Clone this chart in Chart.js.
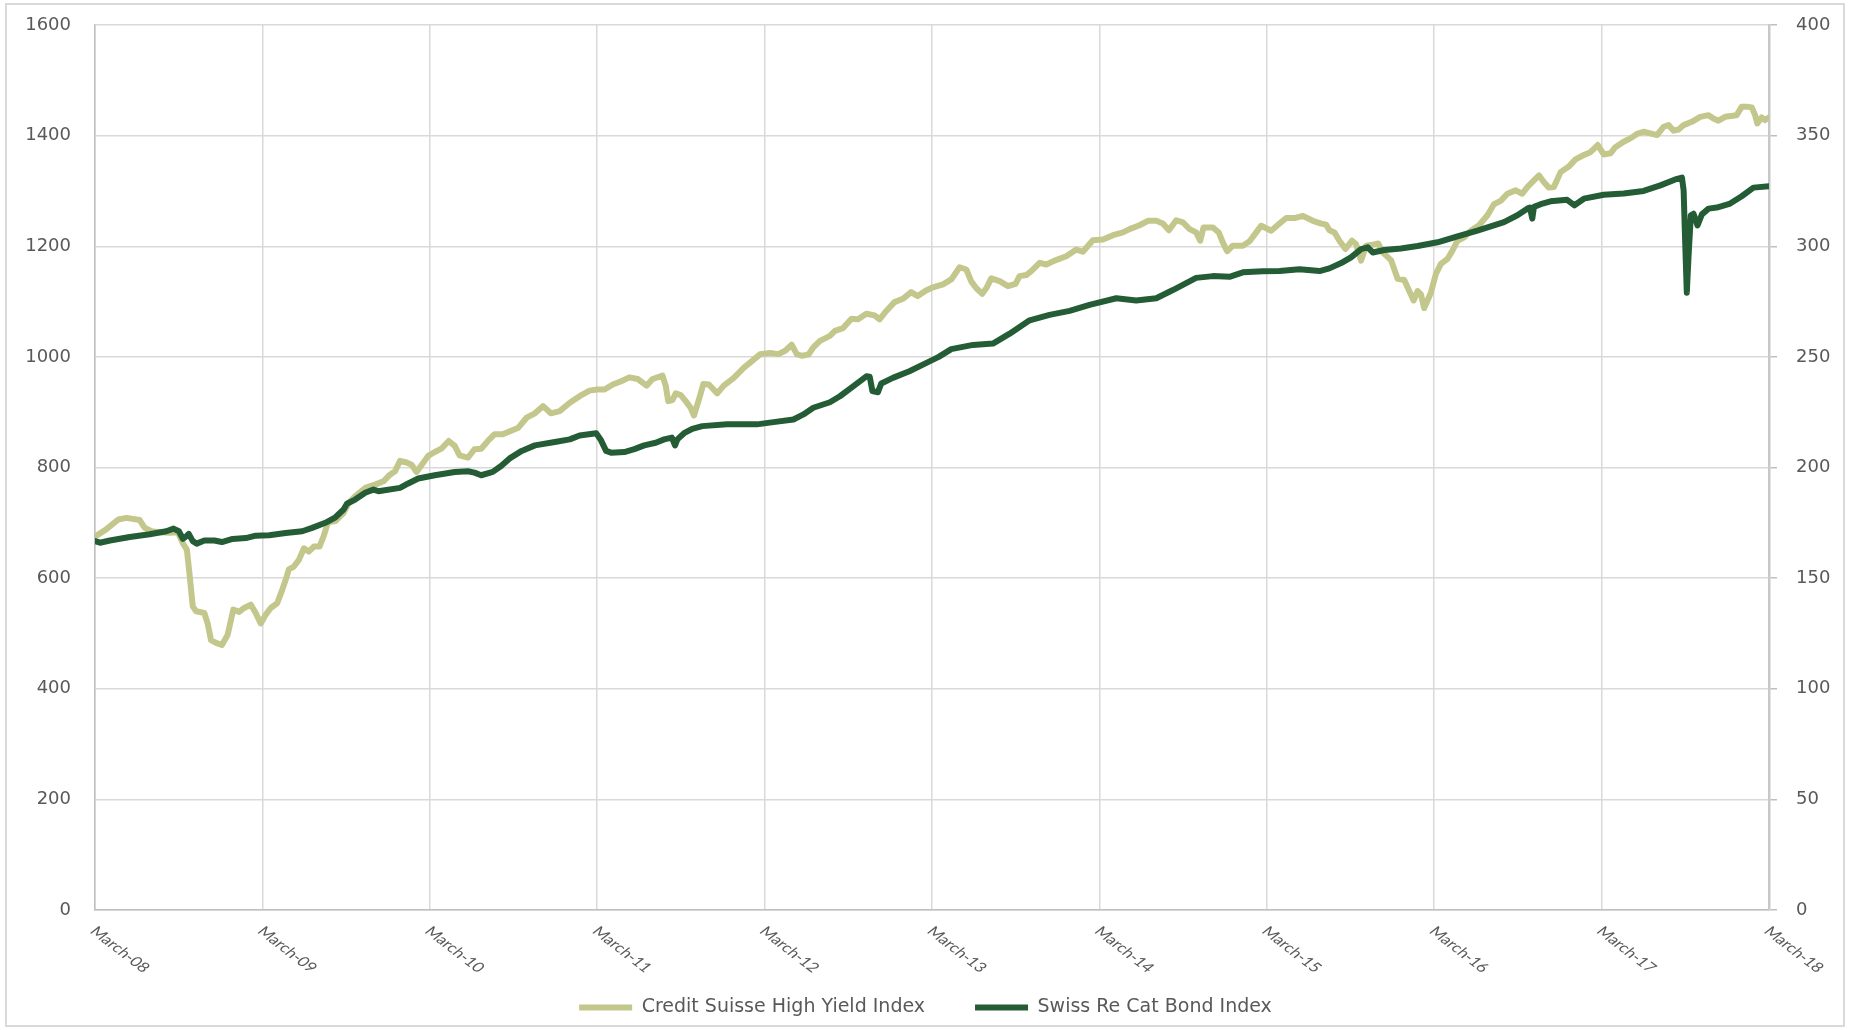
<!DOCTYPE html>
<html>
<head>
<meta charset="utf-8">
<script src="https://cdn.jsdelivr.net/npm/chart.js@4.4.1/dist/chart.umd.min.js"></script>
<style>
  html, body { margin: 0; padding: 0; background: #ffffff; }
  #wrap { width: 1851px; height: 1030px; position: relative; }
</style>
</head>
<body>
<div id="wrap"><canvas id="c" width="1851" height="1030"></canvas></div>
<script>
// Year ticks on the time axis (0 = March 2008, 10 = March 2018)
const tickLabels = ['March-08', 'March-09', 'March-10', 'March-11', 'March-12', 'March-13',
                    'March-14', 'March-15', 'March-16', 'March-17', 'March-18'];
const seriesNames = ['Credit Suisse High Yield Index', 'Swiss Re Cat Bond Index'];

// Credit Suisse High Yield Index (left axis): years since March 2008, index level
const hyYears = [
  0, 0.07, 0.139, 0.188, 0.267, 0.297, 0.337, 0.386, 0.446, 0.495, 0.525, 0.549, 0.564, 0.584, 0.604,
  0.653, 0.673, 0.693, 0.723, 0.758, 0.792, 0.826, 0.861, 0.891, 0.931, 0.96, 0.99, 1.02, 1.05, 1.089,
  1.115, 1.139, 1.158, 1.188, 1.218, 1.248, 1.277, 1.307, 1.341, 1.366, 1.392, 1.436, 1.485, 1.515,
  1.554, 1.614, 1.673, 1.723, 1.762, 1.792, 1.822, 1.861, 1.891, 1.921, 1.95, 1.99, 2.03, 2.069, 2.113,
  2.149, 2.178, 2.228, 2.267, 2.307, 2.347, 2.386, 2.436, 2.475,
  2.529, 2.578, 2.628, 2.677, 2.723, 2.776, 2.836, 2.895, 2.954, 3.0, 3.044, 3.093, 3.143, 3.192, 3.242,
  3.295, 3.331, 3.39, 3.41, 3.424, 3.45, 3.469, 3.499, 3.529, 3.558, 3.578, 3.608, 3.634, 3.667, 3.717,
  3.756, 3.816, 3.875, 3.935, 3.974, 4.034, 4.083, 4.123, 4.162, 4.192, 4.222, 4.261, 4.291, 4.331,
  4.39, 4.42, 4.469, 4.519, 4.558, 4.608, 4.657, 4.687, 4.727, 4.776, 4.826, 4.875, 4.915, 4.964,
  5.0, 5.066, 5.115, 5.165, 5.205, 5.235, 5.265, 5.3, 5.324, 5.354, 5.404, 5.454, 5.499, 5.523, 5.563,
  5.593, 5.643, 5.683, 5.732, 5.802, 5.862, 5.901, 5.961, 6.021, 6.081, 6.141, 6.18, 6.24, 6.29, 6.34,
  6.379, 6.415, 6.459, 6.499, 6.539, 6.578, 6.602, 6.622, 6.678, 6.713, 6.737, 6.763, 6.797, 6.857,
  6.897, 6.927, 6.966, 7.026, 7.076, 7.116, 7.166, 7.215, 7.275, 7.325, 7.355, 7.374, 7.404, 7.434,
  7.47, 7.509, 7.533, 7.563, 7.593, 7.633, 7.666, 7.692, 7.742, 7.782, 7.821, 7.851, 7.877, 7.901,
  7.921, 7.94, 7.98, 8.01, 8.04, 8.079, 8.109, 8.139, 8.179, 8.218, 8.268, 8.318, 8.357, 8.397, 8.437,
  8.487, 8.526, 8.556, 8.596, 8.626, 8.655, 8.685, 8.715, 8.755, 8.804, 8.844, 8.894, 8.933, 8.977,
  9.013, 9.053, 9.082, 9.132, 9.172, 9.211, 9.251, 9.291, 9.331, 9.37, 9.4, 9.43, 9.46, 9.49, 9.539,
  9.589, 9.639, 9.668, 9.698, 9.738, 9.807, 9.837, 9.877, 9.897, 9.917, 9.93, 9.956, 9.976, 10.0
];
const hyValues = [
  675, 689, 706, 709, 705, 691, 685, 683, 682, 683, 663, 651, 609, 549, 540,
  537, 518, 488, 483, 479, 497, 543, 539, 546, 552, 537, 518, 534, 546, 555,
  576, 597, 616, 621, 633, 654, 648, 657, 657, 676, 701, 703, 718, 736,
  748, 763, 769, 775, 787, 793, 812, 809, 805, 792, 804, 821, 828, 834, 848,
  839, 822, 818, 833, 834, 848, 860, 860, 865,
  872, 890, 898, 911, 898, 902, 917, 929, 939, 941, 941, 950, 956, 963, 960,
  948, 960, 966, 947, 920, 922, 934, 931, 920, 908, 894, 923, 951, 950, 934,
  948, 962, 980, 995, 1005, 1007, 1005, 1011, 1022, 1005, 1002, 1004, 1017, 1029,
  1038, 1047, 1052, 1069, 1068, 1078, 1075, 1068, 1083, 1099, 1105, 1117, 1110, 1120,
  1125, 1131, 1140, 1162, 1158, 1136, 1124, 1114, 1124, 1142, 1137, 1128, 1132, 1146, 1148,
  1155, 1170, 1167, 1174, 1182, 1194, 1190, 1211, 1212, 1220, 1225, 1231, 1238, 1246, 1246,
  1241, 1229, 1247, 1243, 1231, 1225, 1210, 1234, 1234, 1225, 1207, 1191, 1201, 1201,
  1209, 1221, 1237, 1228, 1241, 1251, 1251, 1255, 1246, 1241, 1239, 1229, 1225, 1210,
  1195, 1210, 1204, 1174, 1201, 1203, 1205, 1189, 1175, 1141, 1139, 1119, 1102, 1119,
  1113, 1088, 1116, 1150, 1168, 1177, 1192, 1210, 1216, 1228, 1238, 1256, 1276, 1282, 1295,
  1301, 1295, 1307, 1319, 1328, 1316, 1306, 1307, 1334, 1344, 1357, 1365, 1370, 1383,
  1366, 1368, 1379, 1389, 1395, 1403, 1407, 1404, 1401, 1416, 1419, 1409, 1411, 1419, 1425,
  1434, 1437, 1431, 1427, 1434, 1437, 1452, 1452, 1451, 1437, 1422, 1433, 1428, 1433
];

// Swiss Re Cat Bond Index (right axis): years since March 2008, index level
const catYears = [
  0, 0.03, 0.089, 0.208, 0.327, 0.426, 0.469, 0.501, 0.525, 0.545, 0.56, 0.584, 0.608, 0.653, 0.713,
  0.758, 0.822, 0.901, 0.96, 1.04, 1.139, 1.238, 1.297, 1.376, 1.436, 1.485, 1.505, 1.554, 1.614,
  1.663, 1.693, 1.822, 1.871, 1.931, 2.03, 2.149, 2.228, 2.267, 2.307, 2.376, 2.426, 2.475,
  2.549, 2.628, 2.747, 2.836, 2.895, 2.994, 3.02, 3.053, 3.083, 3.162, 3.222, 3.281, 3.35, 3.4, 3.446,
  3.465, 3.479, 3.519, 3.568, 3.628, 3.776, 3.954, 4.053, 4.172, 4.232, 4.291, 4.39, 4.45, 4.529,
  4.608, 4.628, 4.644, 4.677, 4.697, 4.766, 4.865, 4.964,
  5.04, 5.115, 5.245, 5.364, 5.464, 5.583, 5.702, 5.822, 5.941, 6.101, 6.22, 6.34, 6.439, 6.578,
  6.678, 6.777, 6.857, 6.976, 7.076, 7.195, 7.315, 7.374, 7.454, 7.503,
  7.563, 7.603, 7.633, 7.702, 7.801, 7.901, 8.02, 8.139, 8.258, 8.417, 8.497, 8.556, 8.572, 8.586,
  8.596, 8.636, 8.695, 8.794, 8.838, 8.894, 9.013, 9.132, 9.251, 9.351, 9.44, 9.48, 9.49, 9.499,
  9.509, 9.519, 9.533, 9.549, 9.573, 9.599, 9.639, 9.688, 9.768, 9.837, 9.907, 10.0
];
const catValues = [
  166.7, 166, 167, 168.6, 169.8, 171.2, 172.4, 171.2, 167.8, 168.9, 170, 166.7, 165.6, 167, 167,
  166.3, 167.7, 168.1, 169.2, 169.4, 170.4, 171.2, 172.7, 175, 177.5, 181, 183.6, 185.5, 188.6,
  190, 189.3, 190.8, 192.8, 195, 196.5, 198, 198.3, 197.7, 196.5, 198, 200.7, 204,
  207.5, 210, 211.5, 212.7, 214.5, 215.5, 212.7, 207.5, 206.7, 207, 208.3, 210, 211.2, 212.7, 213.5,
  210, 212.7, 215.5, 217.5, 218.7, 219.5, 219.5, 220.5, 221.7, 224, 227, 229.5, 232.2, 236.7,
  241.2, 241, 234.5, 234, 238, 240.5, 243.5, 247.2,
  250, 253.5, 255.4, 256, 260.5, 266.5, 269, 270.8, 273.5, 276.5, 275.5, 276.5, 280.2, 285.7,
  286.5, 286.2, 288.2, 288.7, 288.8, 289.6, 288.8, 290, 292.8, 295,
  298.7, 299.5, 297.2, 298.3, 299, 300.1, 301.8, 304.5, 307.1, 310.9, 314, 317, 317.5, 312.5,
  317.8, 319, 320.3, 321, 318.5, 321.5, 323.3, 323.8, 325, 327.5, 330.2, 331, 325.3, 302.5,
  279, 295, 314, 314.7, 309.4, 314.4, 317, 317.5, 319.3, 322.6, 326.5, 327.1
];

const FONT = '"DejaVu Sans", Verdana, sans-serif';
const SLANT_FONT = 'Lato, "Open Sans", sans-serif';
const TEXT = '#595959';
const GRID = '#d9d9d9';
const AXIS = '#bfbfbf';
const HY_COLOR = '#c4c78b';
const CAT_COLOR = '#245c35';

const toPoints = (xs, ys) => xs.map((x, i) => ({ x: x, y: ys[i] }));

// value axes: fixed width, and no extra room reserved above/below for the end labels
const fixValueAxis = (width) => (s) => {
  s.width = width;
  s.paddingTop = 0;
  s.paddingBottom = 0;
};

// light frame round the whole chart
const framePlugin = {
  id: 'frame',
  beforeDraw(chart) {
    const c = chart.ctx;
    c.save();
    c.strokeStyle = '#d9d9d9';
    c.lineWidth = 2;
    c.strokeRect(6, 4, chart.width - 13, chart.height - 8);
    c.restore();
  }
};

// slanted date labels under the time axis, running down to the right from each tick
const slantedTicks = {
  id: 'slantedTicks',
  afterDraw(chart) {
    const sx = chart.scales.x;
    const c = chart.ctx;
    c.save();
    c.font = '13.5px ' + SLANT_FONT;
    c.fillStyle = TEXT;
    c.textAlign = 'left';
    c.textBaseline = 'middle';
    sx.ticks.forEach((t) => {
      const label = tickLabels[Math.round(t.value)];
      if (label === undefined) return;
      const px = sx.getPixelForValue(t.value);
      c.save();
      c.translate(px - 2, sx.top + 19);
      c.scale(1.3, 1);
      c.rotate(Math.PI / 4);
      c.fillText(label, 0, 0);
      c.restore();
    });
    c.restore();
  }
};

new Chart(document.getElementById('c'), {
  type: 'line',
  data: {
    datasets: [
      {
        label: seriesNames[0],
        data: toPoints(hyYears, hyValues),
        yAxisID: 'y',
        borderColor: HY_COLOR,
        backgroundColor: HY_COLOR,
        borderWidth: 6,
        borderCapStyle: 'round',
        borderJoinStyle: 'round',
        pointRadius: 0,
        tension: 0,
        fill: false,
        order: 1
      },
      {
        label: seriesNames[1],
        data: toPoints(catYears, catValues),
        yAxisID: 'y1',
        borderColor: CAT_COLOR,
        backgroundColor: CAT_COLOR,
        borderWidth: 6,
        borderCapStyle: 'round',
        borderJoinStyle: 'round',
        pointRadius: 0,
        tension: 0,
        fill: false,
        order: 0
      }
    ]
  },
  options: {
    responsive: false,
    animation: false,
    events: [],
    layout: { padding: { left: 0, right: 0, top: 25, bottom: 3 } },
    plugins: {
      legend: {
        position: 'bottom',
        labels: {
          usePointStyle: true,
          pointStyle: 'line',
          pointStyleWidth: 53,
          padding: 50,
          color: TEXT,
          font: { family: FONT, size: 19 },
          sort: (a, b) => a.datasetIndex - b.datasetIndex
        }
      },
      tooltip: { enabled: false }
    },
    scales: {
      x: {
        type: 'linear',
        min: 0,
        max: 10,
        ticks: { stepSize: 1, display: false, callback: (v) => tickLabels[v] },
        grid: { color: GRID, lineWidth: 1.5, drawTicks: false },
        border: { color: AXIS, width: 1.5 },
        afterFit(s) { s.height = 38; }
      },
      y: {
        position: 'left',
        min: 0,
        max: 1600,
        ticks: {
          stepSize: 200,
          padding: 24,
          color: TEXT,
          font: { family: FONT, size: 18 },
          callback: (v) => String(v)
        },
        grid: { color: GRID, lineWidth: 1.5, drawTicks: false },
        border: { color: AXIS, width: 1.5 },
        afterFit: fixValueAxis(95)
      },
      y1: {
        position: 'right',
        min: 0,
        max: 400,
        ticks: {
          stepSize: 50,
          padding: 19,
          color: TEXT,
          font: { family: FONT, size: 18 },
          callback: (v) => String(v)
        },
        grid: { drawOnChartArea: false, color: AXIS, lineWidth: 1.5, tickLength: 8 },
        border: { color: '#c8c8c8', width: 2.5 },
        afterFit: fixValueAxis(82)
      }
    }
  },
  plugins: [framePlugin, slantedTicks]
});
</script>
</body>
</html>
